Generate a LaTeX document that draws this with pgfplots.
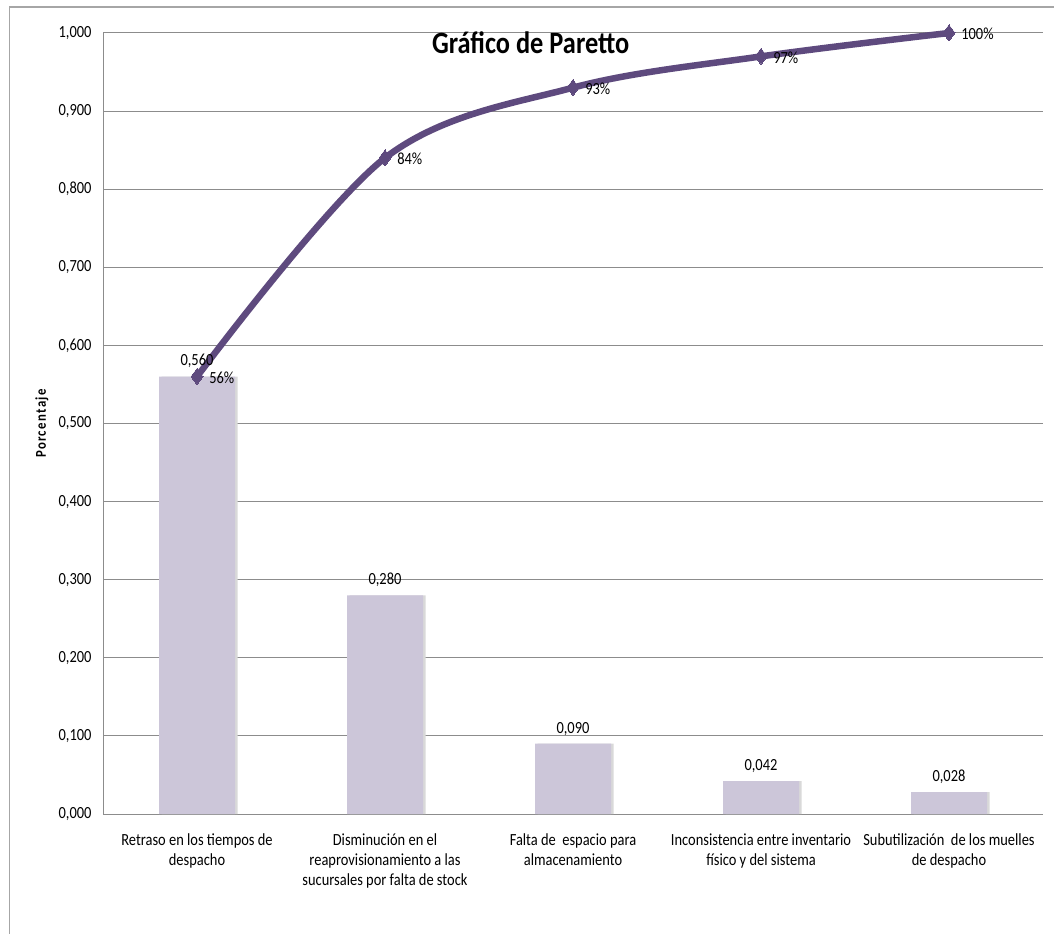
\documentclass[border=0pt]{standalone}
\usepackage{fontspec}
\setmainfont{Carlito}[FakeStretch=0.85]
\usepackage{pgfplots}
\pgfplotsset{compat=1.18}
\definecolor{barc}{HTML}{CCC6D9}
\definecolor{shadc}{HTML}{D9D9D9}
\definecolor{linec}{HTML}{5E4A7E}
\definecolor{gridc}{HTML}{8C8C8C}
\definecolor{framec}{HTML}{A6A6A6}
\begin{document}
\begin{tikzpicture}
\useasboundingbox (0,0) rectangle (1054bp,934bp);
\draw[framec, line width=1.2bp] (9.5bp,0) -- (9.5bp,927bp) -- (1054bp,927bp);
\begin{axis}[
  at={(103bp,120bp)}, anchor=south west, scale only axis,
  width=940bp, height=781bp,
  xmin=-0.5, xmax=4.5, ymin=0, ymax=1,
  clip=false,
  axis x line*=bottom, axis y line*=left,
  axis line style={gridc, line width=1bp, -},
  ymajorgrids, grid style={gridc, line width=1bp},
  ytick={0,0.1,0.2,0.3,0.4,0.5,0.6,0.7,0.8,0.9,1},
  xtick={0,1,2,3,4},
  xticklabels={{Retraso en los tiempos de\\despacho},
               {Disminución en el\\reaprovisionamiento a las\\sucursales por falta de stock},
               {Falta de\ \ espacio para\\almacenamiento},
               {Inconsistencia entre inventario\\físico y del sistema},
               {Subutilización\ \ de los muelles\\de despacho}},
  major tick length=0pt,
  /pgf/number format/assume math mode=true,
  yticklabel style={/pgf/number format/fixed, /pgf/number format/fixed zerofill,
    /pgf/number format/precision=3, /pgf/number format/use comma, xshift=-8bp},
  xticklabel style={align=center, yshift=-16bp},
  font=\fontsize{17bp}{20bp}\selectfont,
  ticklabel style={font=\fontsize{17bp}{20bp}\selectfont},
  ylabel={\addfontfeature{LetterSpace=9}Porcentaje},
  ylabel style={at={(axis description cs:-0.065,0.5)}, anchor=center, rotate=0,
    font=\bfseries\fontsize{15bp}{15bp}\selectfont},
]
\addplot[ybar, bar width=76bp, bar shift=2.5bp, fill=shadc, draw=none]
  coordinates {(0,0.56) (1,0.28) (2,0.09) (3,0.042) (4,0.028)};
\addplot[ybar, bar width=76bp, fill=barc, draw=none,
  nodes near coords={\pgfmathprintnumber[fixed,fixed zerofill,precision=3,use comma,assume math mode=true]{\pgfplotspointmeta}},
  every node near coord/.append style={font=\fontsize{17bp}{20bp}\selectfont, text=black, yshift=5bp}]
  coordinates {(0,0.56) (1,0.28) (2,0.09) (3,0.042) (4,0.028)};
\addplot[linec, line width=6.5bp, smooth, tension=0.55,
  mark=diamond*, mark size=8bp, mark options={fill=linec, draw=linec, line width=0bp},
  point meta=explicit symbolic, nodes near coords,
  every node near coord/.append style={font=\fontsize{17bp}{20bp}\selectfont, text=black, anchor=west, xshift=9bp, yshift=-1bp}]
  coordinates {(0,0.56) [56\%] (1,0.84) [84\%] (2,0.93) [93\%] (3,0.97) [97\%] (4,1.0) [100\%]};
\node[font=\bfseries\fontsize{31bp}{31bp}\selectfont] at (axis description cs:0.455,0.987) {Gráfico de Paretto};
\end{axis}
\end{tikzpicture}
\end{document}
